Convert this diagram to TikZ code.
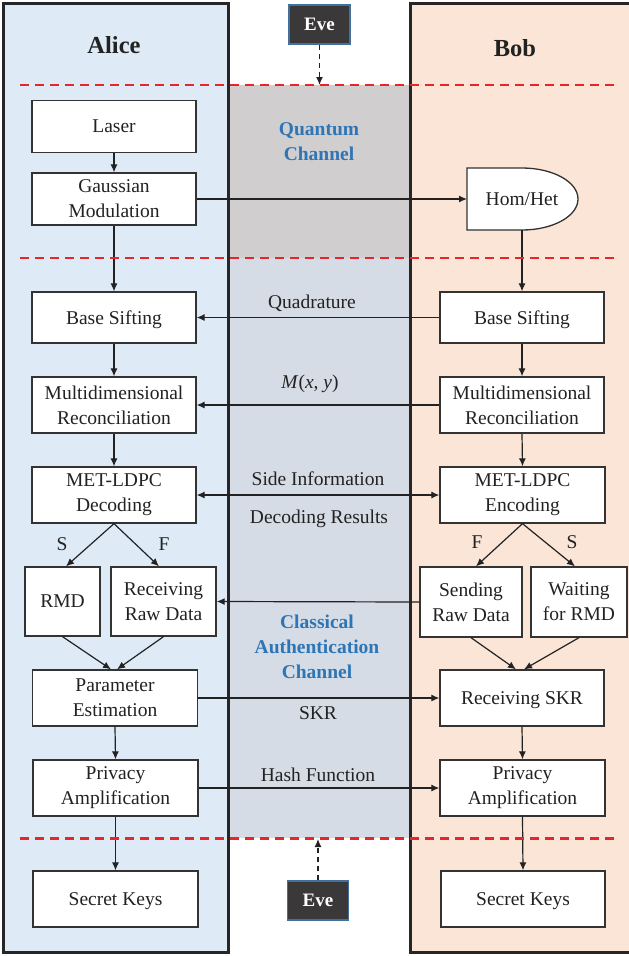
\documentclass[tikz,border=0pt]{standalone}
\usepackage{fontspec}
\setmainfont{Liberation Serif}
\usetikzlibrary{arrows.meta,calc}
\definecolor{alicefill}{HTML}{DEEBF7}
\definecolor{bobfill}{HTML}{FBE5D6}
\definecolor{qgray}{HTML}{D0CECE}
\definecolor{cgray}{HTML}{D6DCE5}
\definecolor{reddash}{HTML}{E8262A}
\definecolor{chanblue}{HTML}{2E75B6}
\definecolor{evefill}{HTML}{3A3838}
\definecolor{eveline}{HTML}{41719C}
\definecolor{panelline}{HTML}{262626}
\definecolor{boxline}{HTML}{333333}
\definecolor{inkc}{HTML}{222222}
\begin{document}
\begin{tikzpicture}[x=1pt,y=-1pt,
  wh/.style 2 args={minimum width=#1,minimum height=#2},
  box/.style={draw=boxline,line width=1.3pt,fill=white,inner sep=0pt,align=center,text=inkc,font=\fontsize{19.5}{25}\selectfont},
  onebox/.style={box,text depth=0pt},
  arr/.style={line width=1.2pt,draw=inkc,-{Latex[length=8pt,width=7pt]}},
  darr/.style={line width=1.2pt,draw=inkc,{Latex[length=8pt,width=7pt]}-{Latex[length=8pt,width=7pt]}},
  evearr/.style={line width=1.2pt,draw=inkc,dash pattern=on 5pt off 4pt,-{Latex[length=8pt,width=7pt]}},
  lbl/.style={font=\fontsize{19.5}{25}\selectfont,inner sep=0pt,anchor=base,text=inkc},
  chan/.style={font=\bfseries\fontsize{19.5}{25}\selectfont,inner sep=0pt,align=center,text=chanblue},
  title/.style={font=\bfseries\fontsize{24.5}{28}\selectfont,inner sep=0pt,anchor=base,text=inkc},
  evebox/.style={draw=eveline,line width=1.2pt,fill=evefill,text=white,inner sep=0pt,font=\bfseries\fontsize{19}{22}\selectfont,minimum width=61pt,minimum height=39pt},
  panel/.style={draw=panelline,line width=3pt},
  redline/.style={draw=reddash,line width=2.5pt,dash pattern=on 9pt off 6pt}
]
\useasboundingbox (0,0) rectangle (629,956);
\clip (0,0) rectangle (629,956);
% backgrounds
\fill[alicefill] (3.5,3.5) rectangle (228,952.5);
\fill[bobfill] (410,3.5) rectangle (640,952.5);
\fill[qgray] (228,85) rectangle (410,258);
\fill[cgray] (228,258) rectangle (410,838);
\draw[panel] (3.5,3.5) rectangle (228,952.5);
\draw[panel] (410,3.5) rectangle (640,952.5);

% titles
\node[title] (alice) at (114,53) {Alice};
\node[title] (bob) at (515,56) {Bob};

% Eve
\node[evebox] (eveT) at (319.5,24.5) {Eve};
\node[evebox] (eveB) at (318,900.5) {Eve};
\coordinate (eveTend) at (319.5,85);
\coordinate (eveBend) at (318,839);

% channel labels
\node[chan] (qchan) at (319,142) {Quantum\\Channel};
\node[chan] (cchan) at (317,646.5) {Classical\\Authentication\\Channel};

% Alice boxes
\node[onebox,wh={164pt}{52pt}] (laser) at (114,126.5) {Laser};
\node[box,wh={164pt}{52pt}] (gm) at (114,199) {Gaussian\\Modulation};
\node[onebox,wh={164pt}{51pt}] (bsA) at (114,317.5) {Base Sifting};
\node[box,wh={164pt}{56pt}] (mrA) at (114,405) {Multidimensional\\Reconciliation};
\node[box,wh={164pt}{56pt}] (metA) at (114,495) {MET-LDPC\\Decoding};
\node[onebox,wh={75pt}{69pt}] (rmd) at (62.5,601.5) {RMD};
\node[box,wh={105pt}{69pt}] (rrd) at (163.5,601.5) {Receiving\\Raw Data};
\node[box,wh={164.5pt}{56pt}] (pe) at (115,698) {Parameter\\Estimation};
\node[box,wh={165pt}{56pt}] (paA) at (115.5,788) {Privacy\\Amplification};
\node[onebox,wh={165pt}{56pt}] (skA) at (115.5,899) {Secret Keys};

% Bob boxes
\draw[draw=boxline,line width=1.3pt,fill=white] (467,168) -- (522,168)
  arc[start angle=-90,end angle=90,x radius=56,y radius=31] -- (467,230) -- cycle;
\node[inner sep=0pt,text=inkc,font=\fontsize{19.5}{25}\selectfont] (hh) at (522,199) {Hom/Het};
\coordinate (hhW) at (467,199);
\coordinate (hhS) at (522,230);
\node[onebox,wh={164pt}{51pt}] (bsB) at (522,317.5) {Base Sifting};
\node[box,wh={164pt}{56pt}] (mrB) at (522,405) {Multidimensional\\Reconciliation};
\node[box,wh={165pt}{56pt}] (metB) at (522.5,495) {MET-LDPC\\Encoding};
\node[box,wh={102pt}{70pt}] (srd) at (471,602) {Sending\\Raw Data};
\node[box,wh={96pt}{70pt}] (wrmd) at (579,602) {Waiting\\for RMD};
\node[onebox,wh={164pt}{56pt}] (rskr) at (522,698) {Receiving SKR};
\node[box,wh={165pt}{56pt}] (paB) at (522.5,788) {Privacy\\Amplification};
\node[onebox,wh={164pt}{56pt}] (skB) at (523,899) {Secret Keys};

% Alice vertical arrows
\draw[arr] (laser.south) -- (gm.north);
\draw[arr] (gm.south) -- (bsA.north);
\draw[arr] (bsA.south) -- (mrA.north);
\draw[arr] (mrA.south) -- (metA.north);
\draw[arr] (metA.south) -- ([xshift=3.5pt]rmd.north);
\draw[arr] (metA.south) -- ([xshift=-4.5pt]rrd.north);
\draw[arr] (rmd.south) -- ([xshift=-4pt]pe.north);
\draw[arr] (rrd.south) -- ([xshift=2pt]pe.north);
\draw[arr] (pe.south) -- (paA.north);
\draw[arr] (paA.south) -- (skA.north);

% Bob vertical arrows
\draw[arr] (hhS) -- (bsB.north);
\draw[arr] (bsB.south) -- (mrB.north);
\draw[arr] (mrB.south) -- (metB.north);
\draw[arr] (metB.south) -- ([xshift=5pt]srd.north);
\draw[arr] (metB.south) -- ([xshift=-4pt]wrmd.north);
\draw[arr] (srd.south) -- ([xshift=-6pt]rskr.north);
\draw[arr] (wrmd.south) -- ([xshift=2pt]rskr.north);
\draw[arr] (rskr.south) -- (paB.north);
\draw[arr] (paB.south) -- (skB.north);

% horizontal arrows
\draw[arr] (gm.east) -- (hhW);
\draw[arr] (bsB.west) -- (bsA.east);
\draw[arr] (mrB.west) -- (mrA.east);
\draw[darr] (metA.east) -- (metB.west);
\draw[arr] (srd.west) -- (rrd.east);
\draw[arr] (pe.east) -- (rskr.west);
\draw[arr] (paA.east) -- (paB.west);

% labels
\node[lbl] (lq) at (312,308) {Quadrature};
\node[lbl] (lm) at (310,388) {\textit{M}(\textit{x}, \textit{y})};
\node[lbl] (lsi) at (318,485) {Side Information};
\node[lbl] (ldr) at (319,523) {Decoding Results};
\node[lbl] (lskr) at (318,719) {SKR};
\node[lbl] (lhf) at (318,781) {Hash Function};
\node[lbl] (ls1) at (62,550) {S};
\node[lbl] (lf1) at (164,550) {F};
\node[lbl] (lf2) at (477,548) {F};
\node[lbl] (ls2) at (572,548) {S};

% red dashed lines
\coordinate (r1a) at (20,85); \coordinate (r1b) at (618,85);
\coordinate (r2a) at (20,258); \coordinate (r2b) at (618,258);
\coordinate (r3a) at (20,838.5); \coordinate (r3b) at (618,838.5);
\draw[redline] (r1a) -- (r1b);
\draw[redline] (r2a) -- (r2b);
\draw[redline] (r3a) -- (r3b);

% Eve arrows
\draw[evearr] (eveT.south) -- (eveTend);
\draw[evearr] (eveB.north) -- (eveBend);
\end{tikzpicture}
\end{document}
